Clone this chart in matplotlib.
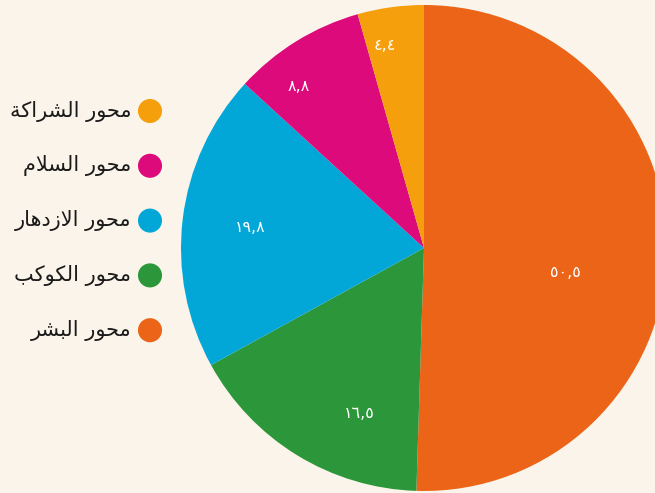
import matplotlib
matplotlib.use("Agg")
import matplotlib.pyplot as plt
import numpy as np

# --- data (clockwise from 12 o'clock) ---
axes_names = ["محور البشر", "محور الكوكب", "محور الازدهار", "محور السلام", "محور الشراكة"]
shares = [50.5, 16.5, 19.8, 8.8, 4.4]
share_labels = ["٥٠,٥", "١٦,٥", "١٩,٨", "٨,٨", "٤,٤"]
colors = ["#EB6417", "#2B963A", "#03A7D7", "#DC0A7B", "#F59F0C"]

BG = "#FAF4EA"

# minimal Arabic shaping (matplotlib has no bidi / joining support)
FORMS = {
    "ا": ("\uFE8D", "\uFE8E", None, None),
    "ب": ("\uFE8F", "\uFE90", "\uFE91", "\uFE92"),
    "ة": ("\uFE93", "\uFE94", None, None),
    "ح": ("\uFEA1", "\uFEA2", "\uFEA3", "\uFEA4"),
    "د": ("\uFEA9", "\uFEAA", None, None),
    "ر": ("\uFEAD", "\uFEAE", None, None),
    "ز": ("\uFEAF", "\uFEB0", None, None),
    "س": ("\uFEB1", "\uFEB2", "\uFEB3", "\uFEB4"),
    "ش": ("\uFEB5", "\uFEB6", "\uFEB7", "\uFEB8"),
    "ك": ("\uFED9", "\uFEDA", "\uFEDB", "\uFEDC"),
    "ل": ("\uFEDD", "\uFEDE", "\uFEDF", "\uFEE0"),
    "م": ("\uFEE1", "\uFEE2", "\uFEE3", "\uFEE4"),
    "ه": ("\uFEE9", "\uFEEA", "\uFEEB", "\uFEEC"),
    "و": ("\uFEED", "\uFEEE", None, None),
}
LAM_ALEF = ("\uFEFB", "\uFEFC")


def dual(c):
    return c in FORMS and FORMS[c][2] is not None


def shape(text):
    out = []
    i = 0
    while i < len(text):
        c = text[i]
        if c not in FORMS:
            out.append(c)
            i += 1
            continue
        prev = text[i - 1] if i > 0 else ""
        joins_prev = dual(prev)
        nxt = text[i + 1] if i + 1 < len(text) else ""
        if c == "ل" and nxt == "ا":
            out.append(LAM_ALEF[1] if joins_prev else LAM_ALEF[0])
            i += 2
            continue
        joins_next = dual(c) and nxt in FORMS
        iso, fin, ini, med = FORMS[c]
        if joins_prev and joins_next:
            out.append(med)
        elif joins_prev:
            out.append(fin)
        elif joins_next:
            out.append(ini)
        else:
            out.append(iso)
        i += 1
    return "".join(reversed(out))


W, H = 655, 493
fig = plt.figure(figsize=(W / 100, H / 100), dpi=100, facecolor=BG)

# pie: centre (424, 248) px, radius 243 px
cx, cy, r = 424, 248, 243
ax = fig.add_axes([(cx - r) / W, (H - cy - r) / H, 2 * r / W, 2 * r / H])
ax.set_facecolor(BG)
wedges, _ = ax.pie(shares, colors=colors, startangle=90, counterclock=False,
                   radius=1, wedgeprops=dict(linewidth=0))
ax.set_xlim(-1, 1)
ax.set_ylim(-1, 1)
ax.axis("off")

# value labels inside the wedges
label_dist = [0.59, 0.73, 0.72, 0.84, 0.85]
label_shift = [-9, 10, 0, 6, 3]
for w, txt, d, s in zip(wedges, share_labels, label_dist, label_shift):
    ang = np.deg2rad((w.theta1 + w.theta2) / 2 + s)
    ax.text(d * np.cos(ang), d * np.sin(ang), txt, color="white",
            fontsize=11.5, ha="center", va="center", family="DejaVu Sans")

# legend on the left, dot to the right of the text
lax = fig.add_axes([0, 0, 1, 1], facecolor="none")
lax.set_xlim(0, W)
lax.set_ylim(H, 0)
lax.axis("off")
for k, idx in enumerate(reversed(range(len(axes_names)))):
    y = 111 + k * 54.8
    lax.scatter([150], [y], s=300, color=colors[idx], edgecolor="none")
    lax.text(131, y, shape(axes_names[idx]), ha="right", va="center",
             fontsize=15, color="#1A1A1A", family="DejaVu Sans")

fig.savefig("out.png", dpi=100, facecolor=BG)
